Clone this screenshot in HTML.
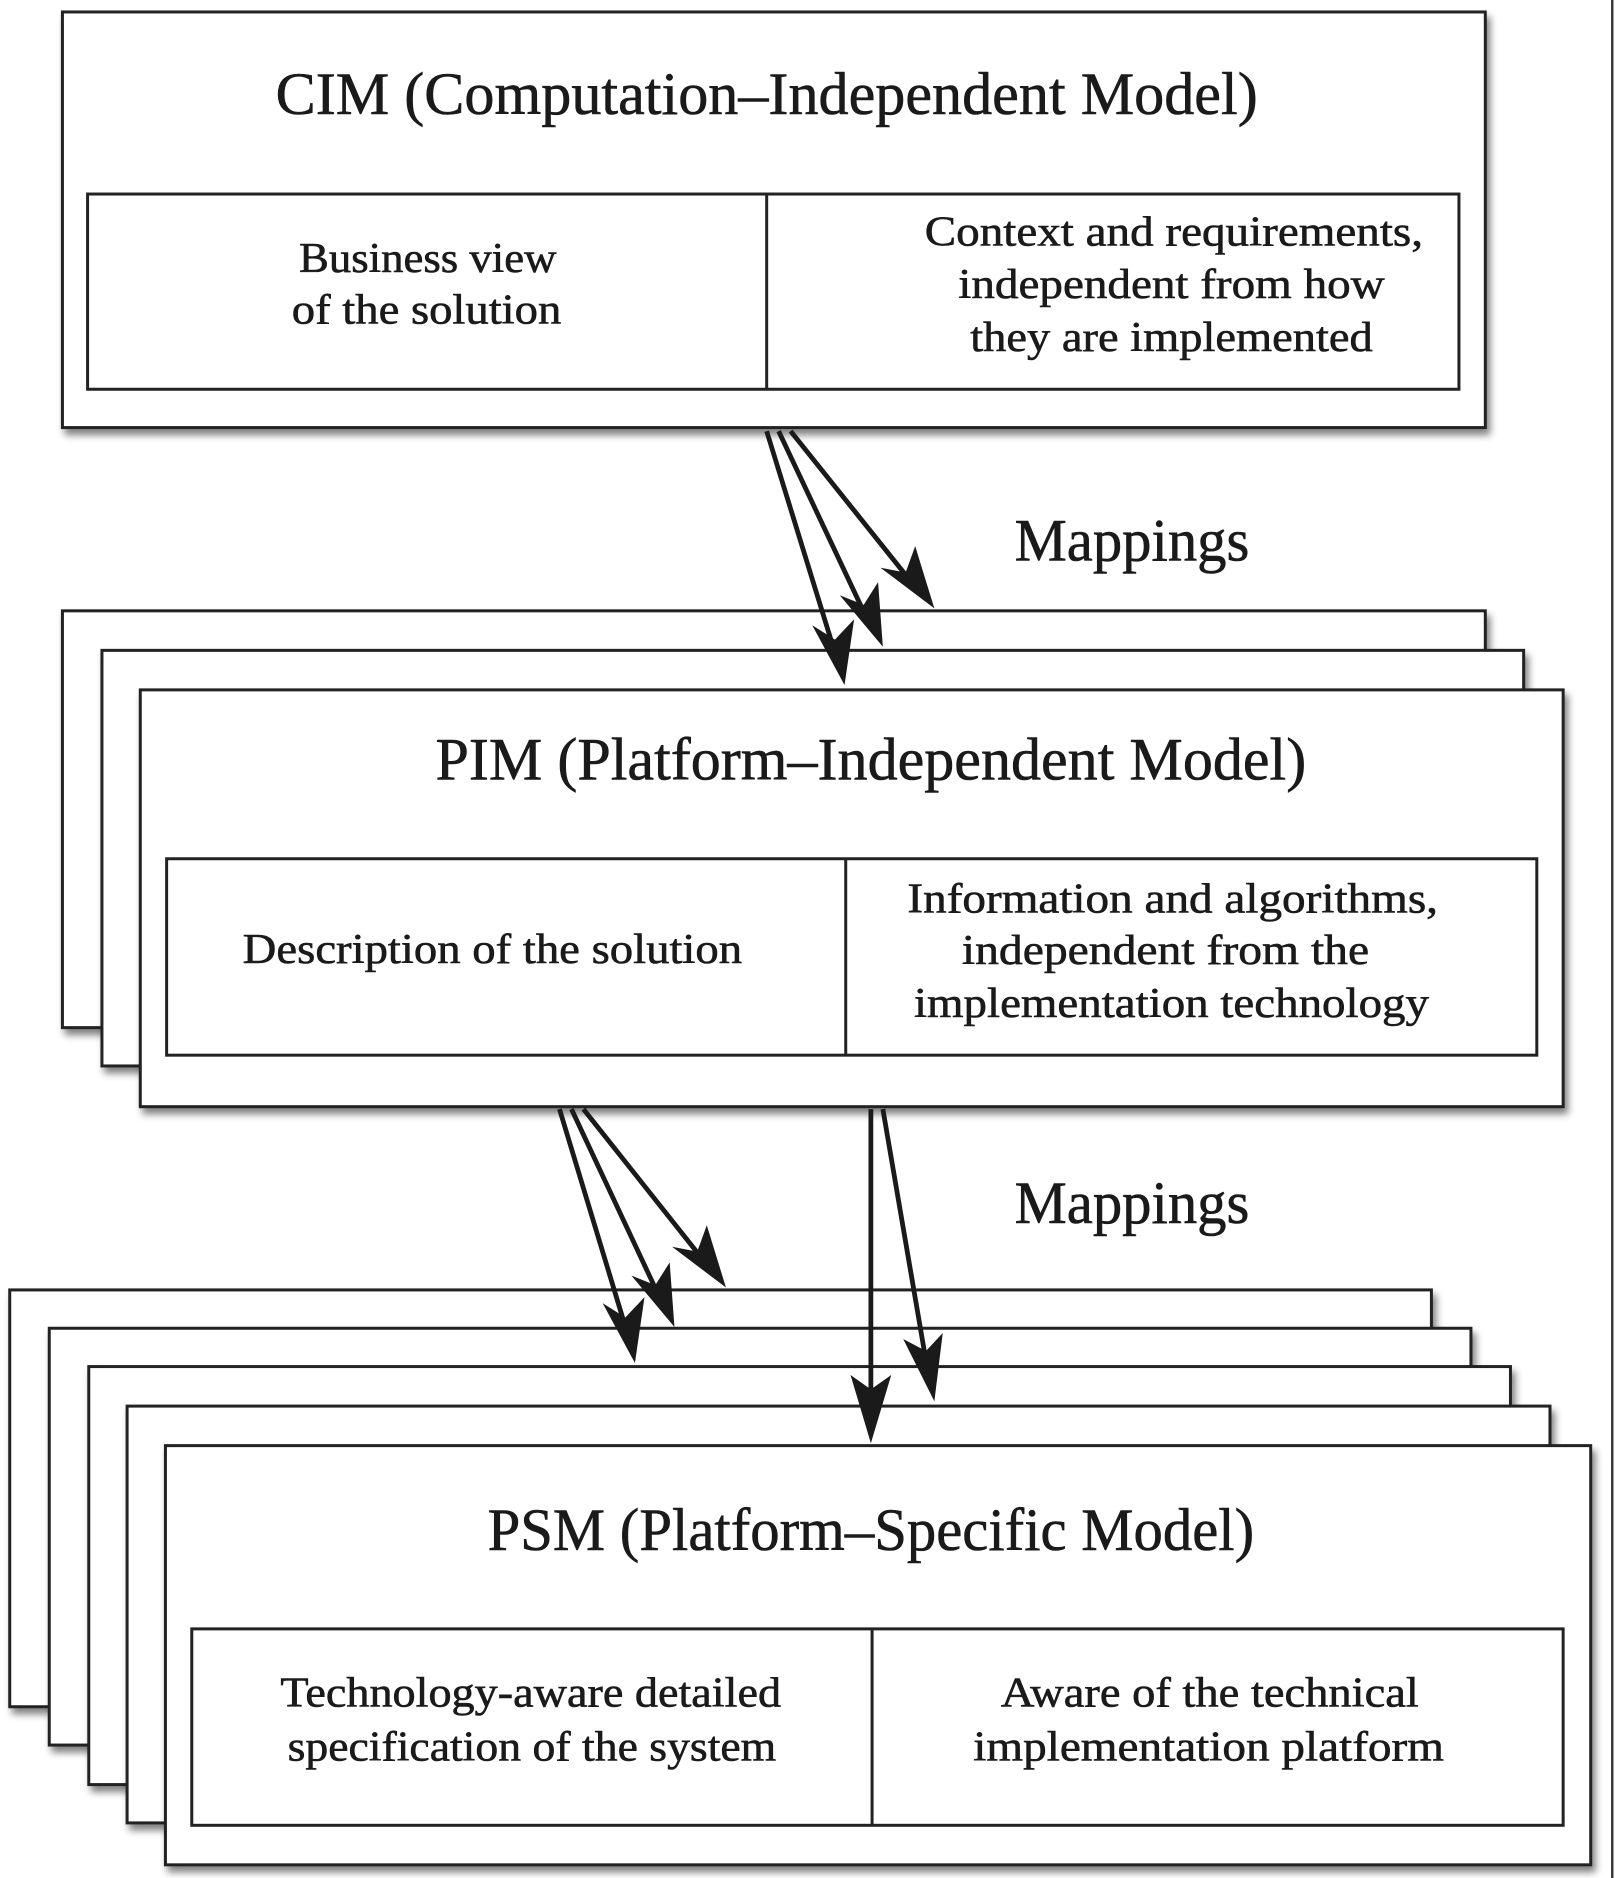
<!DOCTYPE html>
<html><head><meta charset="utf-8"><style>
html,body{margin:0;padding:0;background:#fff;}
svg{display:block;}
text{font-family:"Liberation Serif",serif;fill:#1a1a1a;stroke:#1a1a1a;stroke-width:0.5;}
</style></head><body>
<svg width="1616" height="1878" viewBox="0 0 1349 1568" xmlns="http://www.w3.org/2000/svg">
<defs>
<filter id="sh" x="-5%" y="-5%" width="110%" height="115%">
<feGaussianBlur in="SourceAlpha" stdDeviation="3"/>
<feOffset dx="3" dy="5"/>
<feComponentTransfer><feFuncA type="linear" slope="0.5"/></feComponentTransfer>
<feMerge><feMergeNode/><feMergeNode in="SourceGraphic"/></feMerge>
</filter>
</defs>
<rect width="1349" height="1568" fill="#fff"/>
<line x1="1346" y1="0" x2="1346" y2="1568" stroke="#333" stroke-width="2"/>

<g stroke="#222" stroke-width="2.5" fill="#fff">
<rect x="52" y="10" width="1188" height="347" filter="url(#sh)"/>
<rect x="73" y="162" width="1145" height="163"/>
<line x1="640" y1="162" x2="640" y2="325"/>
<rect x="52" y="510" width="1188" height="348" filter="url(#sh)"/>
<rect x="85" y="543" width="1187" height="347" filter="url(#sh)"/>
<rect x="117" y="576" width="1188" height="348" filter="url(#sh)"/>
<rect x="139" y="717" width="1144" height="164"/>
<line x1="706" y1="717" x2="706" y2="881"/>
<rect x="8" y="1077" width="1187" height="348" filter="url(#sh)"/>
<rect x="41" y="1109" width="1187" height="348" filter="url(#sh)"/>
<rect x="74" y="1141" width="1187" height="349" filter="url(#sh)"/>
<rect x="106" y="1174" width="1188" height="348" filter="url(#sh)"/>
<rect x="138" y="1207" width="1190" height="350" filter="url(#sh)"/>
<rect x="160" y="1360" width="1145" height="164"/>
<line x1="728" y1="1360" x2="728" y2="1524"/>
</g>

<g stroke="#1a1a1a" stroke-width="4" fill="none">
<line x1="640" y1="360" x2="697" y2="545"/>
<line x1="650" y1="360" x2="723" y2="515"/>
<line x1="660" y1="360" x2="760" y2="485"/>
<line x1="467" y1="926" x2="523" y2="1111"/>
<line x1="477" y1="926" x2="550" y2="1082"/>
<line x1="487" y1="926" x2="587" y2="1052"/>
<line x1="727" y1="926" x2="727" y2="1175"/>
<line x1="737" y1="926" x2="774" y2="1142"/>
</g>
<g fill="#1a1a1a">
<polygon points="705,572 678,522 697,534 713,517"/>
<polygon points="737,540 701,497 721,505 733,486"/>
<polygon points="780,508 735,474 756,478 764,456"/>
<polygon points="530,1138 503,1088 522,1100 538,1083"/>
<polygon points="563,1108 527,1065 547,1073 559,1054"/>
<polygon points="606,1075 561,1041 582,1045 590,1023"/>
<polygon points="727,1205 710,1148 727,1160 744,1148"/>
<polygon points="780,1170 754,1118 773,1128 787,1113"/>
</g>

<g text-anchor="middle" lengthAdjust="spacingAndGlyphs">
<text x="640" y="95" font-size="50" textLength="820" lengthAdjust="spacingAndGlyphs">CIM (Computation–Independent Model)</text>
<text x="357" y="227" font-size="35" textLength="215" lengthAdjust="spacingAndGlyphs">Business view</text>
<text x="356" y="270" font-size="35" textLength="225" lengthAdjust="spacingAndGlyphs">of the solution</text>
<text x="980" y="205" font-size="35" textLength="416" lengthAdjust="spacingAndGlyphs">Context and requirements,</text>
<text x="978" y="249" font-size="35" textLength="356" lengthAdjust="spacingAndGlyphs">independent from how</text>
<text x="978" y="293" font-size="35" textLength="336" lengthAdjust="spacingAndGlyphs">they are implemented</text>

<text x="945" y="468" font-size="50" textLength="196" lengthAdjust="spacingAndGlyphs">Mappings</text>

<text x="727" y="651" font-size="50" textLength="727" lengthAdjust="spacingAndGlyphs">PIM (Platform–Independent Model)</text>
<text x="411" y="804" font-size="35" textLength="417" lengthAdjust="spacingAndGlyphs">Description of the solution</text>
<text x="979" y="762" font-size="35" textLength="443" lengthAdjust="spacingAndGlyphs">Information and algorithms,</text>
<text x="973" y="805" font-size="35" textLength="340" lengthAdjust="spacingAndGlyphs">independent from the</text>
<text x="978" y="849" font-size="35" textLength="430" lengthAdjust="spacingAndGlyphs">implementation technology</text>

<text x="945" y="1021" font-size="50" textLength="196" lengthAdjust="spacingAndGlyphs">Mappings</text>

<text x="727" y="1294" font-size="50" textLength="640" lengthAdjust="spacingAndGlyphs">PSM (Platform–Specific Model)</text>
<text x="443" y="1425" font-size="35" textLength="418" lengthAdjust="spacingAndGlyphs">Technology-aware detailed</text>
<text x="444" y="1470" font-size="35" textLength="408" lengthAdjust="spacingAndGlyphs">specification of the system</text>
<text x="1010" y="1425" font-size="35" textLength="349" lengthAdjust="spacingAndGlyphs">Aware of the technical</text>
<text x="1009" y="1470" font-size="35" textLength="393" lengthAdjust="spacingAndGlyphs">implementation platform</text>
</g>
</svg>
</body></html>
